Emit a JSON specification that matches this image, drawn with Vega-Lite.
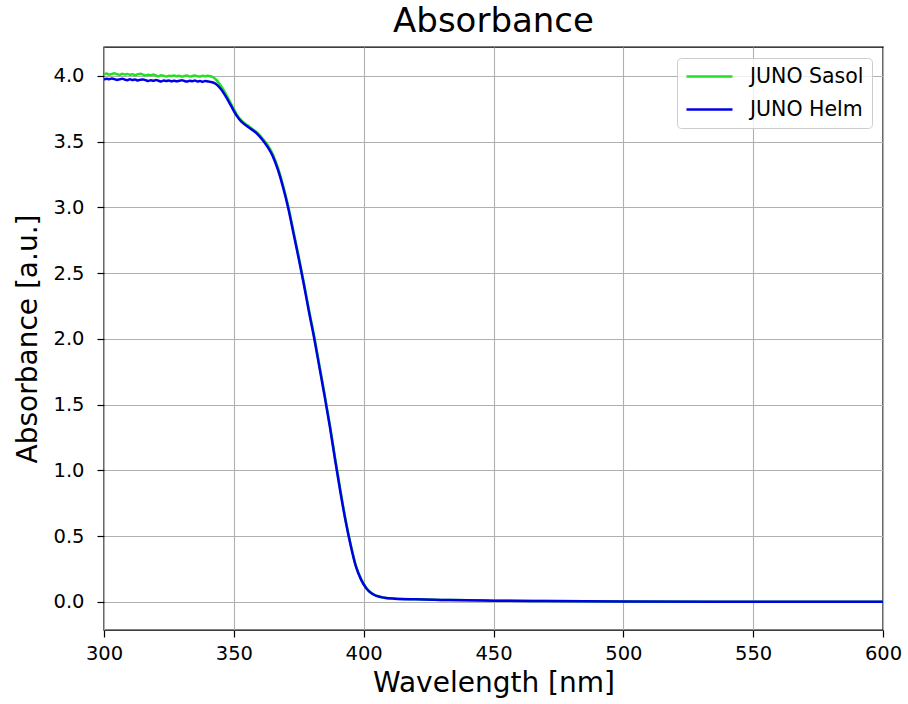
{
  "$schema": "https://vega.github.io/schema/vega-lite/v6.json",
  "width": 779,
  "height": 583,
  "autosize": {"type": "none"},
  "padding": {"left": 104, "top": 47, "right": 25, "bottom": 74},
  "background": "white",
  "title": {"text": "Absorbance", "fontSize": 34, "font": "DejaVu Sans", "fontWeight": "normal", "color": "black", "offset": 8, "anchor": "middle"},
  "config": {
    "font": "DejaVu Sans",
    "view": {"stroke": "black", "strokeWidth": 1.4},
    "axis": {
      "domain": false,
      "grid": true,
      "gridColor": "#b0b0b0",
      "gridWidth": 1.1,
      "tickColor": "black",
      "tickWidth": 1.2,
      "tickSize": 7,
      "labelFontSize": 19.5,
      "labelColor": "black",
      "titleFontSize": 28,
      "titleFontWeight": "normal",
      "titleColor": "black",
      "labelFont": "DejaVu Sans",
      "titleFont": "DejaVu Sans"
    },
    "legend": {
      "labelFontSize": 20.5,
      "labelFont": "DejaVu Sans",
      "labelColor": "black"
    }
  },
  "data": {
    "values": [
      {"w": 300, "series": "JUNO Sasol", "a": 4.012},
      {"w": 301, "series": "JUNO Sasol", "a": 4.018},
      {"w": 302, "series": "JUNO Sasol", "a": 4.010},
      {"w": 303, "series": "JUNO Sasol", "a": 4.015},
      {"w": 304, "series": "JUNO Sasol", "a": 4.020},
      {"w": 305, "series": "JUNO Sasol", "a": 4.013},
      {"w": 306, "series": "JUNO Sasol", "a": 4.008},
      {"w": 307, "series": "JUNO Sasol", "a": 4.016},
      {"w": 308, "series": "JUNO Sasol", "a": 4.011},
      {"w": 309, "series": "JUNO Sasol", "a": 4.014},
      {"w": 310, "series": "JUNO Sasol", "a": 4.009},
      {"w": 311, "series": "JUNO Sasol", "a": 4.012},
      {"w": 312, "series": "JUNO Sasol", "a": 4.006},
      {"w": 313, "series": "JUNO Sasol", "a": 4.013},
      {"w": 314, "series": "JUNO Sasol", "a": 4.017},
      {"w": 315, "series": "JUNO Sasol", "a": 4.010},
      {"w": 316, "series": "JUNO Sasol", "a": 4.004},
      {"w": 317, "series": "JUNO Sasol", "a": 4.009},
      {"w": 318, "series": "JUNO Sasol", "a": 4.006},
      {"w": 319, "series": "JUNO Sasol", "a": 4.011},
      {"w": 320, "series": "JUNO Sasol", "a": 4.003},
      {"w": 321, "series": "JUNO Sasol", "a": 3.998},
      {"w": 322, "series": "JUNO Sasol", "a": 4.005},
      {"w": 323, "series": "JUNO Sasol", "a": 4.001},
      {"w": 324, "series": "JUNO Sasol", "a": 3.996},
      {"w": 325, "series": "JUNO Sasol", "a": 4.002},
      {"w": 326, "series": "JUNO Sasol", "a": 3.999},
      {"w": 327, "series": "JUNO Sasol", "a": 4.004},
      {"w": 328, "series": "JUNO Sasol", "a": 3.997},
      {"w": 329, "series": "JUNO Sasol", "a": 4.001},
      {"w": 330, "series": "JUNO Sasol", "a": 3.995},
      {"w": 331, "series": "JUNO Sasol", "a": 4.000},
      {"w": 332, "series": "JUNO Sasol", "a": 4.003},
      {"w": 333, "series": "JUNO Sasol", "a": 3.996},
      {"w": 334, "series": "JUNO Sasol", "a": 3.999},
      {"w": 335, "series": "JUNO Sasol", "a": 4.004},
      {"w": 336, "series": "JUNO Sasol", "a": 3.998},
      {"w": 337, "series": "JUNO Sasol", "a": 3.995},
      {"w": 338, "series": "JUNO Sasol", "a": 4.001},
      {"w": 339, "series": "JUNO Sasol", "a": 3.997},
      {"w": 340, "series": "JUNO Sasol", "a": 4.002},
      {"w": 341, "series": "JUNO Sasol", "a": 3.998},
      {"w": 342, "series": "JUNO Sasol", "a": 3.990},
      {"w": 343, "series": "JUNO Sasol", "a": 3.975},
      {"w": 345, "series": "JUNO Sasol", "a": 3.925},
      {"w": 347, "series": "JUNO Sasol", "a": 3.860},
      {"w": 349, "series": "JUNO Sasol", "a": 3.785},
      {"w": 351, "series": "JUNO Sasol", "a": 3.712},
      {"w": 353, "series": "JUNO Sasol", "a": 3.660},
      {"w": 355, "series": "JUNO Sasol", "a": 3.628},
      {"w": 357, "series": "JUNO Sasol", "a": 3.598},
      {"w": 359, "series": "JUNO Sasol", "a": 3.568},
      {"w": 361, "series": "JUNO Sasol", "a": 3.525},
      {"w": 363, "series": "JUNO Sasol", "a": 3.475},
      {"w": 365, "series": "JUNO Sasol", "a": 3.405},
      {"w": 367, "series": "JUNO Sasol", "a": 3.300},
      {"w": 369, "series": "JUNO Sasol", "a": 3.165},
      {"w": 371, "series": "JUNO Sasol", "a": 3.005},
      {"w": 373, "series": "JUNO Sasol", "a": 2.815},
      {"w": 375, "series": "JUNO Sasol", "a": 2.625},
      {"w": 377, "series": "JUNO Sasol", "a": 2.425},
      {"w": 379, "series": "JUNO Sasol", "a": 2.215},
      {"w": 381, "series": "JUNO Sasol", "a": 2.015},
      {"w": 383, "series": "JUNO Sasol", "a": 1.795},
      {"w": 385, "series": "JUNO Sasol", "a": 1.575},
      {"w": 387, "series": "JUNO Sasol", "a": 1.345},
      {"w": 389, "series": "JUNO Sasol", "a": 1.095},
      {"w": 391, "series": "JUNO Sasol", "a": 0.855},
      {"w": 393, "series": "JUNO Sasol", "a": 0.630},
      {"w": 395, "series": "JUNO Sasol", "a": 0.438},
      {"w": 397, "series": "JUNO Sasol", "a": 0.276},
      {"w": 399, "series": "JUNO Sasol", "a": 0.174},
      {"w": 401, "series": "JUNO Sasol", "a": 0.107},
      {"w": 403, "series": "JUNO Sasol", "a": 0.068},
      {"w": 405, "series": "JUNO Sasol", "a": 0.047},
      {"w": 408, "series": "JUNO Sasol", "a": 0.033},
      {"w": 412, "series": "JUNO Sasol", "a": 0.026},
      {"w": 420, "series": "JUNO Sasol", "a": 0.020},
      {"w": 430, "series": "JUNO Sasol", "a": 0.016},
      {"w": 440, "series": "JUNO Sasol", "a": 0.013},
      {"w": 450, "series": "JUNO Sasol", "a": 0.010},
      {"w": 470, "series": "JUNO Sasol", "a": 0.007},
      {"w": 500, "series": "JUNO Sasol", "a": 0.004},
      {"w": 550, "series": "JUNO Sasol", "a": 0.002},
      {"w": 600, "series": "JUNO Sasol", "a": 0.001},
      {"w": 300, "series": "JUNO Helm", "a": 3.972},
      {"w": 301, "series": "JUNO Helm", "a": 3.978},
      {"w": 302, "series": "JUNO Helm", "a": 3.975},
      {"w": 303, "series": "JUNO Helm", "a": 3.980},
      {"w": 304, "series": "JUNO Helm", "a": 3.976},
      {"w": 305, "series": "JUNO Helm", "a": 3.970},
      {"w": 306, "series": "JUNO Helm", "a": 3.974},
      {"w": 307, "series": "JUNO Helm", "a": 3.979},
      {"w": 308, "series": "JUNO Helm", "a": 3.972},
      {"w": 309, "series": "JUNO Helm", "a": 3.968},
      {"w": 310, "series": "JUNO Helm", "a": 3.975},
      {"w": 311, "series": "JUNO Helm", "a": 3.969},
      {"w": 312, "series": "JUNO Helm", "a": 3.972},
      {"w": 313, "series": "JUNO Helm", "a": 3.966},
      {"w": 314, "series": "JUNO Helm", "a": 3.971},
      {"w": 315, "series": "JUNO Helm", "a": 3.973},
      {"w": 316, "series": "JUNO Helm", "a": 3.968},
      {"w": 317, "series": "JUNO Helm", "a": 3.962},
      {"w": 318, "series": "JUNO Helm", "a": 3.967},
      {"w": 319, "series": "JUNO Helm", "a": 3.964},
      {"w": 320, "series": "JUNO Helm", "a": 3.970},
      {"w": 321, "series": "JUNO Helm", "a": 3.963},
      {"w": 322, "series": "JUNO Helm", "a": 3.958},
      {"w": 323, "series": "JUNO Helm", "a": 3.965},
      {"w": 324, "series": "JUNO Helm", "a": 3.961},
      {"w": 325, "series": "JUNO Helm", "a": 3.966},
      {"w": 326, "series": "JUNO Helm", "a": 3.960},
      {"w": 327, "series": "JUNO Helm", "a": 3.964},
      {"w": 328, "series": "JUNO Helm", "a": 3.959},
      {"w": 329, "series": "JUNO Helm", "a": 3.963},
      {"w": 330, "series": "JUNO Helm", "a": 3.967},
      {"w": 331, "series": "JUNO Helm", "a": 3.961},
      {"w": 332, "series": "JUNO Helm", "a": 3.957},
      {"w": 333, "series": "JUNO Helm", "a": 3.963},
      {"w": 334, "series": "JUNO Helm", "a": 3.960},
      {"w": 335, "series": "JUNO Helm", "a": 3.965},
      {"w": 336, "series": "JUNO Helm", "a": 3.958},
      {"w": 337, "series": "JUNO Helm", "a": 3.962},
      {"w": 338, "series": "JUNO Helm", "a": 3.956},
      {"w": 339, "series": "JUNO Helm", "a": 3.961},
      {"w": 340, "series": "JUNO Helm", "a": 3.958},
      {"w": 341, "series": "JUNO Helm", "a": 3.955},
      {"w": 342, "series": "JUNO Helm", "a": 3.950},
      {"w": 343, "series": "JUNO Helm", "a": 3.940},
      {"w": 345, "series": "JUNO Helm", "a": 3.900},
      {"w": 347, "series": "JUNO Helm", "a": 3.840},
      {"w": 349, "series": "JUNO Helm", "a": 3.770},
      {"w": 351, "series": "JUNO Helm", "a": 3.700},
      {"w": 353, "series": "JUNO Helm", "a": 3.650},
      {"w": 355, "series": "JUNO Helm", "a": 3.620},
      {"w": 357, "series": "JUNO Helm", "a": 3.590},
      {"w": 359, "series": "JUNO Helm", "a": 3.560},
      {"w": 361, "series": "JUNO Helm", "a": 3.515},
      {"w": 363, "series": "JUNO Helm", "a": 3.460},
      {"w": 365, "series": "JUNO Helm", "a": 3.390},
      {"w": 367, "series": "JUNO Helm", "a": 3.285},
      {"w": 369, "series": "JUNO Helm", "a": 3.150},
      {"w": 371, "series": "JUNO Helm", "a": 2.990},
      {"w": 373, "series": "JUNO Helm", "a": 2.800},
      {"w": 375, "series": "JUNO Helm", "a": 2.610},
      {"w": 377, "series": "JUNO Helm", "a": 2.410},
      {"w": 379, "series": "JUNO Helm", "a": 2.200},
      {"w": 381, "series": "JUNO Helm", "a": 2.000},
      {"w": 383, "series": "JUNO Helm", "a": 1.780},
      {"w": 385, "series": "JUNO Helm", "a": 1.560},
      {"w": 387, "series": "JUNO Helm", "a": 1.330},
      {"w": 389, "series": "JUNO Helm", "a": 1.080},
      {"w": 391, "series": "JUNO Helm", "a": 0.840},
      {"w": 393, "series": "JUNO Helm", "a": 0.620},
      {"w": 395, "series": "JUNO Helm", "a": 0.430},
      {"w": 397, "series": "JUNO Helm", "a": 0.270},
      {"w": 399, "series": "JUNO Helm", "a": 0.170},
      {"w": 401, "series": "JUNO Helm", "a": 0.105},
      {"w": 403, "series": "JUNO Helm", "a": 0.066},
      {"w": 405, "series": "JUNO Helm", "a": 0.046},
      {"w": 408, "series": "JUNO Helm", "a": 0.032},
      {"w": 412, "series": "JUNO Helm", "a": 0.025},
      {"w": 420, "series": "JUNO Helm", "a": 0.020},
      {"w": 430, "series": "JUNO Helm", "a": 0.016},
      {"w": 440, "series": "JUNO Helm", "a": 0.013},
      {"w": 450, "series": "JUNO Helm", "a": 0.010},
      {"w": 470, "series": "JUNO Helm", "a": 0.007},
      {"w": 500, "series": "JUNO Helm", "a": 0.004},
      {"w": 550, "series": "JUNO Helm", "a": 0.002},
      {"w": 600, "series": "JUNO Helm", "a": 0.001}
    ]
  },
  "encoding": {
    "x": {
      "field": "w", "type": "quantitative",
      "scale": {"domain": [300, 600], "nice": false, "zero": false},
      "axis": {"title": "Wavelength [nm]", "values": [300, 350, 400, 450, 500, 550, 600], "format": "d", "labelPadding": 7, "titlePadding": 7, "labelFlush": false}
    },
    "y": {
      "field": "a", "type": "quantitative",
      "scale": {"domain": [-0.213, 4.22], "nice": false, "zero": false},
      "axis": {"title": "Absorbance [a.u.]", "values": [0, 0.5, 1, 1.5, 2, 2.5, 3, 3.5, 4], "format": ".1f", "labelPadding": 13, "titlePadding": 10, "labelFlush": false}
    },
    "color": {
      "field": "series", "type": "nominal",
      "scale": {"domain": ["JUNO Sasol", "JUNO Helm"], "range": ["#22e022", "#0000e6"]},
      "legend": {
        "title": null, "orient": "top-right", "offset": 11,
        "symbolType": "stroke", "symbolSize": 2116, "symbolStrokeWidth": 2.5,
        "clipHeight": 21,
        "labelOffset": 16, "rowPadding": 12, "padding": 8,
        "fillColor": "rgba(255,255,255,0.8)", "strokeColor": "#cccccc", "cornerRadius": 4
      }
    }
  },
  "layer": [
    {"transform": [{"filter": "datum.series === 'JUNO Sasol'"}], "mark": {"type": "line", "strokeWidth": 2.5, "clip": true, "interpolate": "monotone"}},
    {"transform": [{"filter": "datum.series === 'JUNO Helm'"}], "mark": {"type": "line", "strokeWidth": 2.5, "clip": true, "interpolate": "monotone"}}
  ]
}
